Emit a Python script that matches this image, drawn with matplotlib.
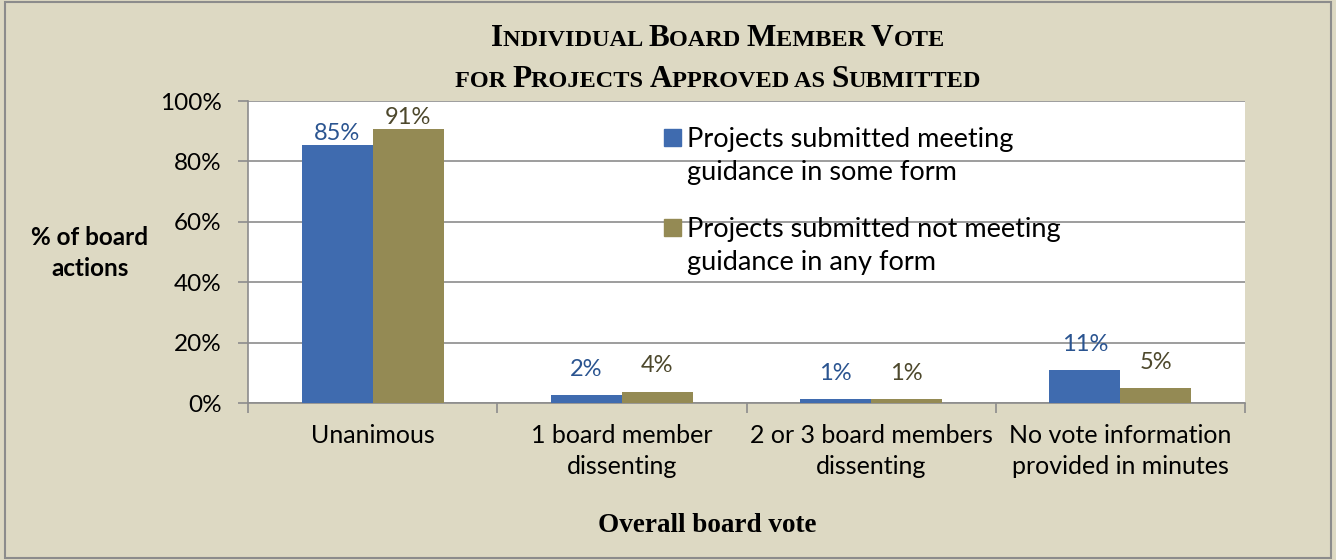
import matplotlib
matplotlib.use("Agg")
import matplotlib.pyplot as plt
import numpy as np
from matplotlib.offsetbox import TextArea, HPacker, AnnotationBbox
from matplotlib.patches import Rectangle

categories = ["Unanimous", "1 board member\ndissenting", "2 or 3 board members\ndissenting",
              "No vote information\nprovided in minutes"]
series_names = ["Projects submitted meeting\nguidance in some form",
                "Projects submitted not meeting\nguidance in any form"]
meeting = [85.3, 2.5, 1.3, 11.0]
not_meeting = [90.7, 3.8, 1.3, 4.9]
meeting_labels = ["85%", "2%", "1%", "11%"]
not_meeting_labels = ["91%", "4%", "1%", "5%"]
yticks = [0, 20, 40, 60, 80, 100]
ytick_labels = ["0%", "20%", "40%", "60%", "80%", "100%"]

BG = "#DDD9C3"
BLUE = "#3F6BAF"
GOLD = "#948A54"
BLUE_TXT = "#2A5490"
GOLD_TXT = "#4D482C"
GRID = "#8C8C8C"
SANS = ["Lato", "DejaVu Sans"]
SERIF = ["Liberation Serif", "DejaVu Serif"]

W, H = 1336, 560
fig = plt.figure(figsize=(W / 100, H / 100), dpi=100, facecolor=BG)
fig.patches.append(Rectangle((0.004, 0.003), 0.992, 0.994, transform=fig.transFigure,
                             fill=False, edgecolor="#8C8C8C", linewidth=1.5))
ax = fig.add_axes([248 / W, 1 - 403 / H, (1245 - 248) / W, (403 - 101) / H])
ax.set_facecolor("white")

x = np.arange(len(categories))
w = 0.285
ax.bar(x - w / 2, meeting, w, color=BLUE, zorder=3)
ax.bar(x + w / 2, not_meeting, w, color=GOLD, zorder=3)
for vals, labs, off, col in [(meeting, meeting_labels, -w / 2, BLUE_TXT),
                             (not_meeting, not_meeting_labels, w / 2, GOLD_TXT)]:
    for i in range(len(categories)):
        gap = 1 if vals[i] > 50 else 11
        ax.annotate(labs[i], (x[i] + off, vals[i]), xytext=(0, gap), textcoords="offset points",
                    ha="center", va="bottom", color=col, fontsize=17, family=SANS, zorder=4)

ax.set_xlim(-0.5, len(categories) - 0.5)
ax.set_ylim(0, 100)
ax.set_yticks(yticks)
ax.set_yticklabels(ytick_labels, family=SANS, fontsize=17.5)
ax.yaxis.grid(True, color=GRID, linewidth=1.2, zorder=0)
ax.set_xticks(np.arange(-0.5, len(categories), 1.0), minor=False)
ax.set_xticklabels([])
ax.set_xticks(x, minor=True)
ax.set_xticklabels(categories, minor=True, family=SANS, fontsize=18, linespacing=1.42)
ax.tick_params(axis="x", which="minor", length=0, pad=15)
ax.tick_params(axis="x", which="major", length=7, color=GRID, width=1.2)
ax.tick_params(axis="y", length=7, color=GRID, width=1.2, pad=12)
for s in ["top", "right"]:
    ax.spines[s].set_visible(False)
for s in ["left", "bottom"]:
    ax.spines[s].set_color(GRID)
    ax.spines[s].set_linewidth(1.2)

fig.text(90 / W, 1 - 253 / H, "% of board\nactions", ha="center", va="center",
         family=SANS, fontsize=17.5, fontweight="bold", linespacing=1.45)
fig.text(707 / W, 1 - 526 / H, "Overall board vote", ha="center", va="center",
         family=SERIF, fontsize=19.5, fontweight="bold")

# legend (Excel style: square aligned with the first text line)
leg_colors = [BLUE, GOLD]
leg_line1_y = [138, 228]
for name, col, yy in zip(series_names, leg_colors, leg_line1_y):
    fig.patches.append(Rectangle((664 / W, 1 - (yy + 8) / H), 17 / W, 17 / H,
                                 transform=fig.transFigure, color=col, zorder=5))
    fig.text(687 / W, 1 - (yy - 11) / H, name, ha="left", va="top", family=SANS,
             fontsize=19.5, linespacing=1.4, color="black", zorder=5)


def small_caps(text, big, small):
    runs = []
    for ch in text:
        is_big = ch.isupper()
        if runs and runs[-1][1] == is_big:
            runs[-1][0] += ch
        else:
            runs.append([ch, is_big])
    boxes = []
    for s, is_big in runs:
        boxes.append(TextArea(s.upper(), textprops=dict(
            family=SERIF, fontweight="bold", fontsize=big if is_big else small, color="black")))
    return HPacker(children=boxes, pad=0, sep=0, align="baseline")


for line, yy in [("Individual Board Member Vote", 1 - 38 / H),
                 ("for Projects Approved as Submitted", 1 - 80 / H)]:
    ab = AnnotationBbox(small_caps(line, 22.5, 17.5), (718 / W, yy), xycoords="figure fraction",
                        frameon=False, box_alignment=(0.5, 0.5), pad=0)
    fig.add_artist(ab)

fig.savefig("out.png", dpi=100, facecolor=BG)
